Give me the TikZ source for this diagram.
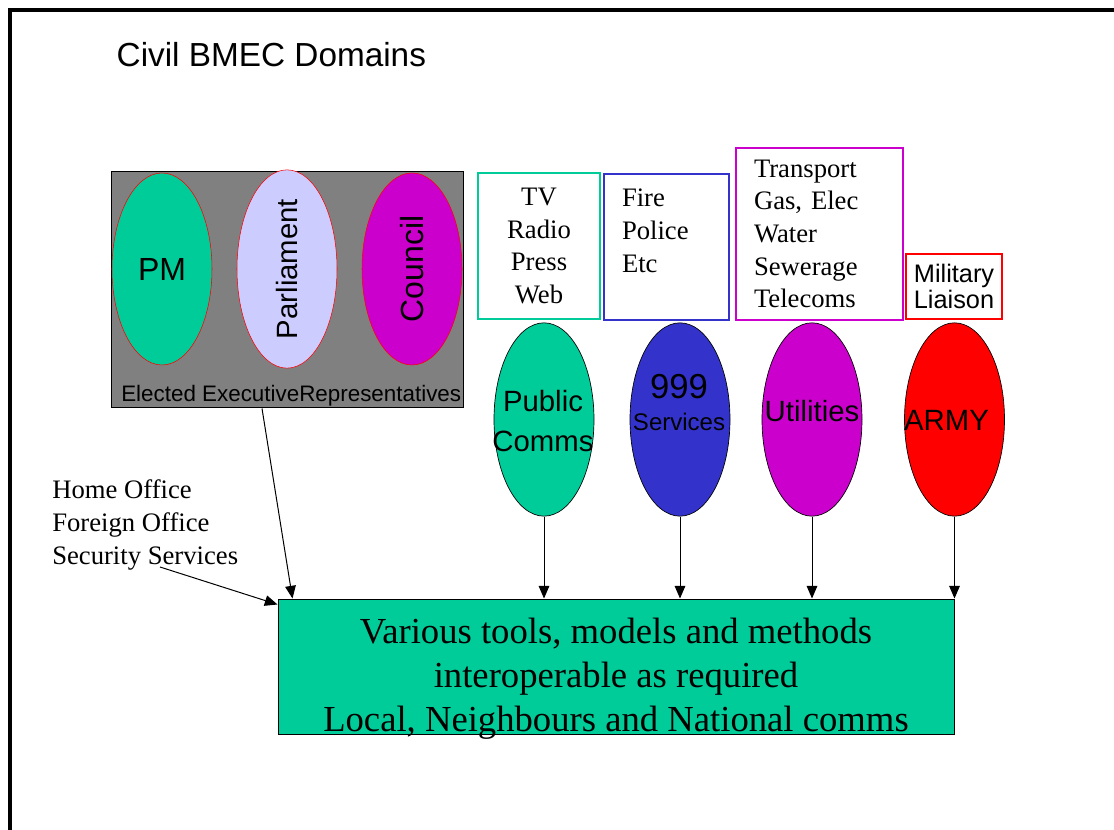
\documentclass[tikz,border=0pt]{standalone}
\usepackage{fontspec}
\setmainfont{Liberation Serif}
\setsansfont{Liberation Sans}
\usepackage{tikz}
\usetikzlibrary{shapes.geometric,arrows.meta}
\definecolor{bmecgreen}{RGB}{0,204,153}
\definecolor{bmeclav}{RGB}{204,204,255}
\definecolor{bmecmag}{RGB}{204,0,204}
\definecolor{bmecblue}{RGB}{51,51,204}
\definecolor{bmecgray}{RGB}{128,128,128}
\begin{document}
\begin{tikzpicture}[x=0.75pt,y=-0.75pt,
    topell/.style={ellipse, draw=red, line width=0.4pt, minimum width=75pt, minimum height=144pt, inner sep=0pt, font=\sffamily\fontsize{24}{28}\selectfont},
    lowell/.style={ellipse, draw=black, line width=0.5pt, minimum width=75pt, minimum height=145pt, inner sep=0pt},
    lowtxt/.style={align=center, inner sep=0pt, font=\sffamily\fontsize{22}{30}\selectfont},
    listbox/.style={draw, line width=0.9pt, fill=white, inner sep=0pt, font=\fontsize{20}{24.5}\selectfont},
    feed/.style={-{Triangle[length=9.5pt,width=8pt]}, line width=0.75pt}]
    \useasboundingbox (0,0) rectangle (1114,830);
    \draw[line width=2.5pt] (10,830) -- (10,10) -- (1114,10);
    \node[anchor=base west, font=\sffamily\fontsize{25}{30}\selectfont] (title) at (112,67) {Civil BMEC Domains};
    \node[draw, fill=bmecgray, line width=0.75pt, minimum width=264pt, minimum height=177pt] (gov) at (287,290) {};
    \node[topell, fill=bmecgreen] (pm) at (162,269) {PM};
    \node[topell, fill=bmeclav] (parl) at (287,269) {\rotatebox{90}{\fontsize{22}{26}\selectfont Parliament}};
    \node[topell, fill=bmecmag] (council) at (412,269) {\rotatebox{90}{Council}};
    \node[anchor=base west, inner sep=0pt, font=\sffamily\fontsize{16.8}{20}\selectfont] (govlbl) at (121,402) {Elected ExecutiveRepresentatives};
    \node[listbox, draw=bmecgreen, text width=91.5pt, minimum height=109.5pt, align=center] (media) at (539,246) {TV\\Radio\\Press\\Web};
    \node[listbox, draw=bmecblue, inner xsep=13.5pt, text width=66.75pt, minimum height=109.5pt, align=left] (emerg) at (666.5,247) {Fire\\Police\\Etc\\~};
    \node[listbox, draw=bmecmag, inner xsep=13.5pt, text width=98.25pt, minimum height=129pt, align=left] (infra) at (819.5,234) {Transport\\Gas, Elec\\Water\\Sewerage\\Telecoms};
    \node[listbox, draw=red, text width=72pt, minimum height=48.75pt, align=center, font=\sffamily\fontsize{19}{19}\selectfont] (liaison) at (954,286.5) {Military\\Liaison};
    \node[lowell, fill=bmecgreen] (pub) at (544,419.5) {};
    \node[lowell, fill=bmecblue] (svc) at (680,419.5) {};
    \node[lowell, fill=bmecmag] (util) at (812,419.5) {};
    \node[lowell, fill=red] (army) at (954.5,419.5) {};
    \node[lowtxt] (pubtxt) at (543,421) {Public\\Comms};
    \node[lowtxt, font=\sffamily\fontsize{18}{24}\selectfont] (svctxt) at (679,402.5) {{\fontsize{26}{24}\selectfont 999}\\Services};
    \node[lowtxt] (utiltxt) at (812,411) {Utilities};
    \node[lowtxt] (armytxt) at (946.5,420.5) {ARMY};
    \node[draw, fill=bmecgreen, line width=0.75pt, minimum width=507pt, minimum height=101.25pt] (tools) at (616,666.5) {};
    \node[align=center, inner sep=0pt, font=\fontsize{27.5}{33}\selectfont] (toolstxt) at (616,679) {Various tools, models and methods\\interoperable as required\\Local, Neighbours and National comms};
    \node[anchor=north west, align=left, inner sep=0pt, font=\fontsize{20}{24.75}\selectfont] (offices) at (52,479) {Home Office\\Foreign Office\\Security Services};
    \coordinate (secstart) at (160,567);
    \draw[feed] ([xshift=-18.75pt]gov.south) -- ([xshift=11.25pt]tools.north west);
    \draw[feed] (secstart) -- ([yshift=-4.5pt]tools.north west);
    \foreach \src in {pub,svc,util,army}
        \draw[feed] (\src.south) -- (\src.south |- tools.north);
\end{tikzpicture}
\end{document}
